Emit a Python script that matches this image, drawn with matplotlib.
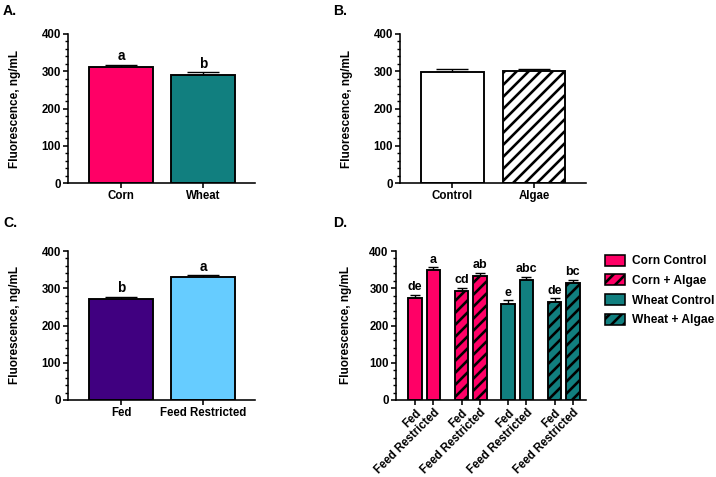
import matplotlib
matplotlib.use("Agg")
import matplotlib.pyplot as plt
import numpy as np
from matplotlib.patches import Patch
from matplotlib.ticker import MultipleLocator

plt.rcParams['font.family'] = ['Liberation Sans', 'DejaVu Sans']
plt.rcParams['font.weight'] = 'bold'
plt.rcParams['hatch.linewidth'] = 2.6

PINK = '#FF0066'
TEAL = '#117F7F'
PURPLE = '#400080'
LBLUE = '#66CCFF'
HATCH = '//'

# panel A: diet
diet_labels = ['Corn', 'Wheat']
diet_means = [311, 290]
diet_err = [7, 7]
diet_letters = ['a', 'b']

# panel B: supplement
supp_labels = ['Control', 'Algae']
supp_means = [299, 301]
supp_err = [7, 5]

# panel C: feeding
feed_labels = ['Fed', 'Feed Restricted']
feed_means = [272, 329]
feed_err = [5, 6]
feed_letters = ['b', 'a']

# panel D: all groups
groups = ['Corn Control', 'Corn + Algae', 'Wheat Control', 'Wheat + Algae']
group_colors = [PINK, PINK, TEAL, TEAL]
group_hatch = [None, HATCH, None, HATCH]
d_means = [[274, 349], [293, 334], [259, 322], [264, 315]]
d_err = [[9, 7], [9, 7], [9, 9], [9, 8]]
d_letters = [['de', 'a'], ['cd', 'ab'], ['e', 'abc'], ['de', 'bc']]

W, H = 716, 477
fig = plt.figure(figsize=(W / 72, H / 72), dpi=72)


def rect(l, r, t, b):
    return [l / W, 1 - b / H, (r - l) / W, (b - t) / H]


def style(ax):
    for s in ['top', 'right']:
        ax.spines[s].set_visible(False)
    for s in ['left', 'bottom']:
        ax.spines[s].set_linewidth(1.6)
    ax.set_ylim(0, 400)
    ax.yaxis.set_major_locator(MultipleLocator(100))
    ax.yaxis.set_minor_locator(MultipleLocator(20))
    ax.tick_params(axis='both', which='major', direction='out', length=5, width=1.6,
                   labelsize=11.5, pad=2)
    ax.tick_params(axis='y', which='minor', direction='out', length=3, width=1.4)
    ax.set_ylabel('Fluorescence, ng/mL', fontsize=11.8, fontweight='bold')
    for lab in ax.get_yticklabels() + ax.get_xticklabels():
        lab.set_fontweight('bold')


def bars(ax, x, means, errs, colors, width, cap, hatches=None, letters=None, fs=13):
    for i in range(len(x)):
        h = hatches[i] if hatches else None
        ax.bar(x[i], means[i], width=width, color=colors[i], edgecolor='black',
               linewidth=1.9, hatch=h, zorder=2)
        ax.errorbar(x[i], means[i], yerr=[[0], [errs[i]]], color='black', capsize=cap,
                    elinewidth=1.4, capthick=1.4, zorder=1)
        if letters:
            ax.annotate(letters[i], (x[i], means[i] + errs[i]), xytext=(0, 1.5),
                        textcoords='offset points', ha='center', va='bottom',
                        fontsize=fs, fontweight='bold')


# A
axA = fig.add_axes(rect(68, 255, 34, 183))
xa = np.arange(2)
bars(axA, xa, diet_means, diet_err, [PINK, TEAL], 0.77, 16, letters=diet_letters, fs=13.5)
axA.set_xlim(-0.646, 1.634)
axA.set_xticks(xa)
axA.set_xticklabels(diet_labels)
style(axA)
axA.yaxis.set_label_coords(-0.251, 0.5)

# B
axB = fig.add_axes(rect(400, 586, 34, 183))
bars(axB, xa, supp_means, supp_err, ['white', 'white'], 0.77, 16, hatches=[None, HATCH])
axB.set_xlim(-0.644, 1.638)
axB.set_xticks(xa)
axB.set_xticklabels(supp_labels)
style(axB)
axB.yaxis.set_label_coords(-0.253, 0.5)

# C
axC = fig.add_axes(rect(68, 255, 251, 400))
bars(axC, xa, feed_means, feed_err, [PURPLE, LBLUE], 0.77, 16, letters=feed_letters, fs=13.5)
axC.set_xlim(-0.646, 1.634)
axC.set_xticks(xa)
axC.set_xticklabels(feed_labels)
style(axC)
axC.yaxis.set_label_coords(-0.251, 0.5)

# D
axD = fig.add_axes(rect(395.7, 586, 251, 400))
xd, md, ed, cd, hd, ld, tl = [], [], [], [], [], [], []
for g in range(4):
    for i in range(2):
        xd.append(g * 2.54 + i)
        md.append(d_means[g][i])
        ed.append(d_err[g][i])
        cd.append(group_colors[g])
        hd.append(group_hatch[g])
        ld.append(d_letters[g][i])
        tl.append(feed_labels[i])
bars(axD, xd, md, ed, cd, 0.74, 5, hatches=hd, letters=ld, fs=12.5)
axD.set_xlim(-1.05, 9.33)
axD.set_xticks(xd)
axD.set_xticklabels(tl, rotation=45, ha='right', rotation_mode='anchor')
style(axD)
axD.yaxis.set_label_coords(-0.23, 0.5)

handles = [Patch(facecolor=group_colors[g], edgecolor='black', linewidth=1.6,
                 hatch=group_hatch[g], label=groups[g]) for g in range(4)]
fig.legend(handles=handles, loc='upper left', bbox_to_anchor=(600 / W, 1 - 250 / H),
           frameon=False, handlelength=1.7, handleheight=1.0,
           handletextpad=0.6, labelspacing=0.6, borderaxespad=0,
           prop={'weight': 'bold', 'size': 12})

for lab, x, y in [('A.', 3, 4), ('B.', 333, 4), ('C.', 3, 216), ('D.', 333, 216)]:
    fig.text(x / W, 1 - y / H, lab, fontsize=14, fontweight='bold', ha='left', va='top')

fig.savefig('out.png', dpi=72)
